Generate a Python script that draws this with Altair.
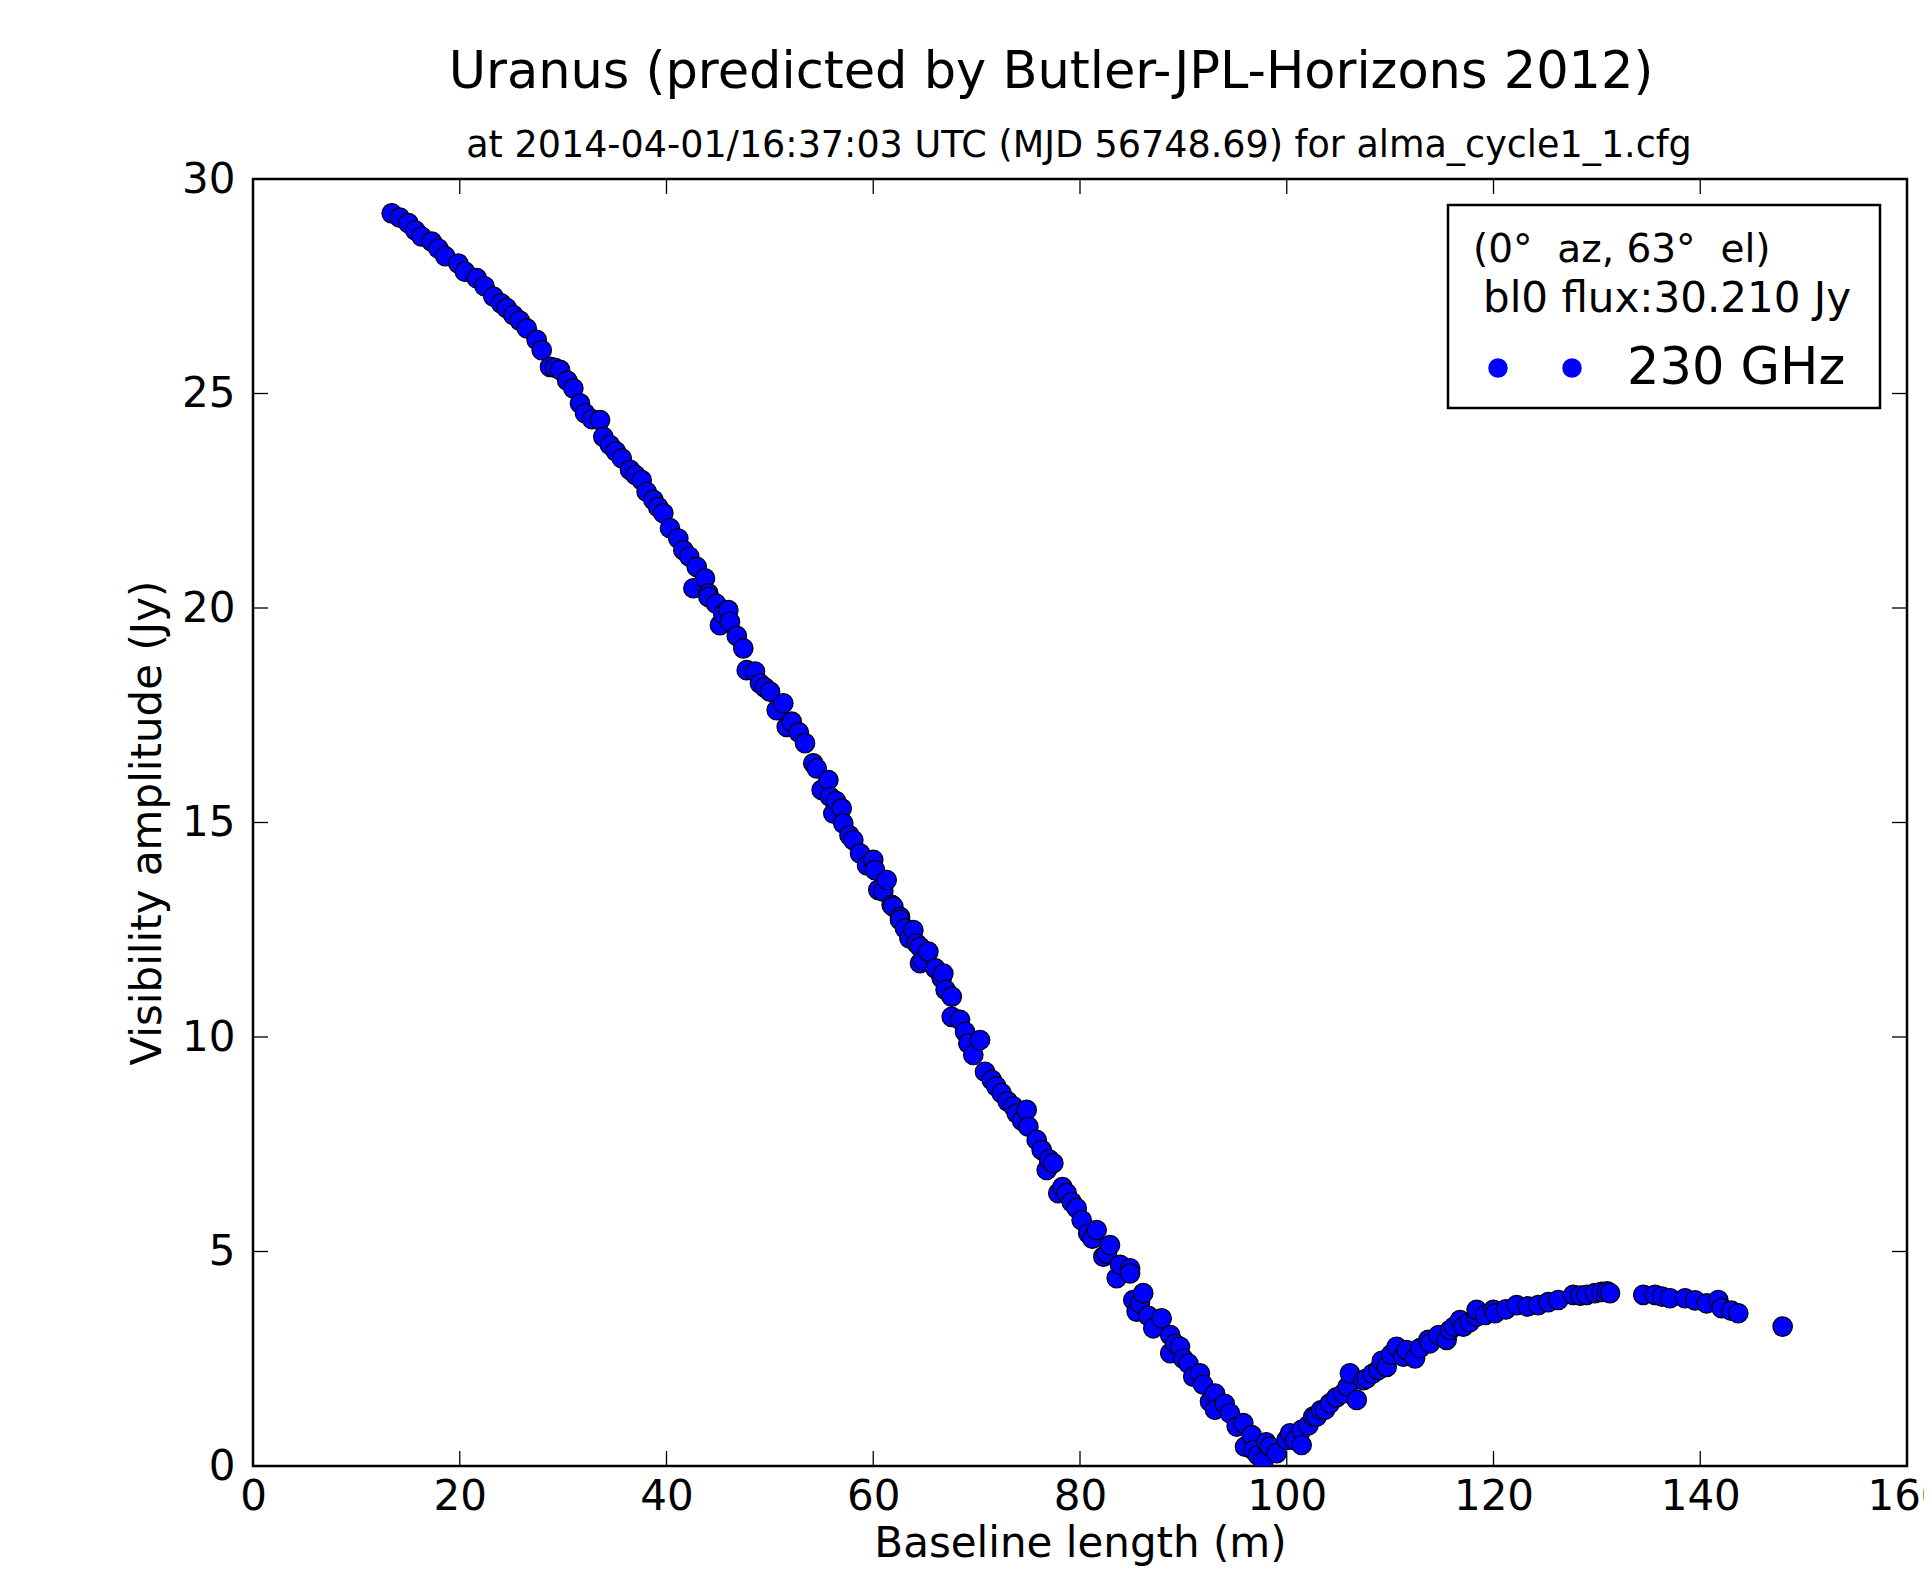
import altair as alt
import pandas as pd

# ---- data ----
baseline_m = [
    13.42, 14.2, 15.03, 15.7, 16.3, 17.29, 17.93, 18.6, 19.86, 20.5,
    21.64, 22.4, 23.25, 24.0, 24.54, 25.18, 25.8, 26.48, 27.44, 27.93,
    28.73, 29.2, 29.7, 30.4, 30.99, 31.63, 32.12, 32.8, 33.57, 33.89,
    34.53, 35.1, 35.67, 36.47, 37.0, 37.6, 38.08, 38.73, 39.2, 39.69,
    40.34, 41.14, 41.63, 42.2, 42.6, 42.92, 43.72, 44.05, 44.05, 44.8,
    45.17, 45.5, 45.98, 46.14, 46.8, 47.43, 47.76, 48.56, 49.04, 49.5,
    50.01, 50.66, 51.3, 51.63, 52.11, 52.8, 53.4, 54.2, 54.53, 55.01,
    55.66, 55.82, 56.14, 56.4, 56.95, 57.1, 57.7, 58.07, 58.72, 59.4,
    60.0, 60.17, 60.49, 60.97, 61.3, 61.78, 61.94, 62.59, 62.59, 63.07,
    63.5, 63.88, 64.2, 64.52, 64.52, 64.84, 65.33, 66.0, 66.62, 66.78,
    67.0, 67.59, 67.59, 68.39, 68.88, 69.2, 69.68, 70.33, 70.81, 71.46,
    71.9, 72.42, 73.0, 73.55, 73.88, 74.4, 74.84, 75.0, 75.81, 76.29,
    76.78, 77.0, 77.42, 77.9, 78.3, 78.71, 79.2, 79.68, 80.16, 80.8,
    81.2, 81.61, 82.26, 82.6, 82.9, 83.55, 83.87, 84.84, 84.84, 85.16,
    85.48, 85.8, 86.12, 86.6, 87.09, 87.9, 88.73, 88.73, 89.2, 89.67,
    90.0, 90.48, 90.96, 91.6, 91.9, 92.58, 93.06, 93.06, 94.0, 94.51,
    95.16, 95.8, 95.96, 96.61, 96.77, 97.2, 97.73, 98.0, 98.38, 99.02,
    99.99, 100.32, 100.8, 101.44, 101.44, 102.1, 102.57, 102.88, 103.3, 103.7,
    104.18, 104.8, 105.47, 105.9, 106.11, 106.77, 107.41, 107.73, 108.3, 108.86,
    109.2, 109.67, 110.1, 110.63, 111.28, 111.6, 112.41, 112.9, 113.7, 113.86,
    114.7, 115.47, 115.79, 116.2, 116.76, 117.08, 117.7, 118.37, 118.37, 119.2,
    119.99, 120.15, 121.2, 122.24, 123.3, 124.33, 125.3, 126.27, 127.72, 128.4,
    129.01, 129.8, 130.46, 131.0, 131.27, 134.49, 135.63, 136.3, 137.08, 138.53,
    139.5, 140.62, 141.75, 142.07, 143.0, 143.68, 147.97,
]
amplitude_jy = [
    29.2, 29.1, 28.97, 28.8, 28.66, 28.54, 28.38, 28.2, 28.03, 27.84,
    27.69, 27.5, 27.26, 27.1, 26.99, 26.83, 26.7, 26.52, 26.25, 26.01,
    25.62, 25.6, 25.55, 25.3, 25.12, 24.77, 24.54, 24.4, 24.38, 23.99,
    23.8, 23.65, 23.49, 23.22, 23.1, 22.98, 22.71, 22.52, 22.35, 22.21,
    21.86, 21.62, 21.35, 21.2, 20.46, 20.96, 20.69, 20.34, 20.26, 20.1,
    19.6, 19.85, 19.95, 19.68, 19.35, 19.06, 18.55, 18.52, 18.24, 18.15,
    18.05, 17.62, 17.78, 17.23, 17.35, 17.1, 16.85, 16.38, 16.26, 15.76,
    15.99, 15.6, 15.21, 15.5, 15.33, 14.98, 14.7, 14.59, 14.28, 14.0,
    14.13, 13.89, 13.43, 13.39, 13.66, 13.08, 13.04, 12.8, 12.73, 12.53,
    12.3, 12.49, 12.18, 12.1, 11.72, 11.79, 11.99, 11.6, 11.37, 11.48,
    11.1, 10.94, 10.47, 10.4, 10.12, 9.85, 9.58, 9.93, 9.19, 9.0,
    8.85, 8.69, 8.5, 8.38, 8.22, 8.05, 8.3, 7.91, 7.6, 7.37,
    6.9, 7.15, 7.06, 6.36, 6.5, 6.36, 6.15, 6.01, 5.73, 5.42,
    5.3, 5.5, 4.88, 4.95, 5.15, 4.38, 4.69, 4.61, 4.49, 3.87,
    3.6, 3.8, 4.03, 3.5, 3.21, 3.44, 3.05, 2.63, 2.85, 2.78,
    2.5, 2.39, 2.08, 2.16, 1.9, 1.5, 1.69, 1.31, 1.45, 1.23,
    0.92, 1.0, 0.45, 0.72, 0.37, 0.25, 0.1, 0.55, 0.45, 0.3,
    0.61, 0.76, 0.6, 0.84, 0.49, 0.95, 1.15, 1.15, 1.3, 1.31,
    1.46, 1.6, 1.69, 1.85, 2.16, 1.54, 2.0, 2.04, 2.15, 2.24,
    2.45, 2.31, 2.6, 2.78, 2.55, 2.7, 2.51, 2.75, 2.94, 2.86,
    3.05, 2.94, 3.17, 3.25, 3.4, 3.25, 3.35, 3.48, 3.64, 3.52,
    3.64, 3.56, 3.65, 3.75, 3.72, 3.75, 3.82, 3.87, 3.99, 3.97,
    3.99, 4.03, 4.06, 4.07, 4.03, 3.99, 3.99, 3.95, 3.91, 3.91,
    3.86, 3.79, 3.87, 3.68, 3.62, 3.56, 3.25,
]
x_ticks = [0, 20, 40, 60, 80, 100, 120, 140, 160]
y_ticks = [0, 5, 10, 15, 20, 25, 30]

title_main = ["Uranus (predicted by Butler-JPL-Horizons 2012)"]
title_sub = ["at 2014-04-01/16:37:03 UTC (MJD 56748.69) for alma_cycle1_1.cfg"]
legend_line1 = ["(0\u00b0\u00a0\u00a0az, 63\u00b0\u00a0\u00a0el)"]
legend_line2 = ["bl0 flux:30.210 Jy"]
legend_label = ["230 GHz"]

# ---- layout ----
W, H = 1654, 1287
FONT = "DejaVu Sans"
BLUE = "#0000ff"
TICK = 15

xs = alt.Scale(domain=[0, 160], nice=False, zero=False)
ys = alt.Scale(domain=[0, 30], nice=False, zero=False)

x_axis = alt.Axis(
    title="Baseline length (m)", values=x_ticks, ticks=False, domain=False, grid=False,
    labelFlush=False, labelPadding=10, titlePadding=6, format="d")
y_axis = alt.Axis(
    title="Visibility amplitude (Jy)", values=y_ticks, ticks=False, domain=False, grid=False,
    labelFlush=False, labelPadding=18, titlePadding=12, format="d")

df = pd.DataFrame({"b": baseline_m, "v": amplitude_jy})

points = alt.Chart(df).mark_circle(
    size=380, color=BLUE, opacity=1, stroke="black", strokeWidth=1.2, clip=True
).encode(
    x=alt.X("b:Q", scale=xs, axis=x_axis),
    y=alt.Y("v:Q", scale=ys, axis=y_axis),
)

xt = pd.DataFrame({"b": x_ticks})
yt = pd.DataFrame({"v": y_ticks})
rule_kw = dict(color="black", strokeWidth=1.3)
tick_bottom = alt.Chart(xt).mark_rule(**rule_kw).encode(
    x=alt.X("b:Q", scale=xs, axis=x_axis), y=alt.value(H), y2=alt.value(H - TICK))
tick_top = alt.Chart(xt).mark_rule(**rule_kw).encode(
    x=alt.X("b:Q", scale=xs, axis=x_axis), y=alt.value(0), y2=alt.value(TICK))
tick_left = alt.Chart(yt).mark_rule(**rule_kw).encode(
    y=alt.Y("v:Q", scale=ys, axis=y_axis), x=alt.value(0), x2=alt.value(TICK))
tick_right = alt.Chart(yt).mark_rule(**rule_kw).encode(
    y=alt.Y("v:Q", scale=ys, axis=y_axis), x=alt.value(W), x2=alt.value(W - TICK))

t1 = alt.Chart(pd.DataFrame({"t": title_main})).mark_text(
    font=FONT, fontSize=51, color="black", align="center", baseline="alphabetic"
).encode(text="t:N", x=alt.value(798), y=alt.value(-91))
t2 = alt.Chart(pd.DataFrame({"t": title_sub})).mark_text(
    font=FONT, fontSize=36.5, color="black", align="center", baseline="alphabetic"
).encode(text="t:N", x=alt.value(826), y=alt.value(-22))

box = alt.Chart(pd.DataFrame({"k": [0]})).mark_rect(
    fill="white", stroke="black", strokeWidth=2.5
).encode(x=alt.value(1195), x2=alt.value(1627), y=alt.value(26), y2=alt.value(229))
l1 = alt.Chart(pd.DataFrame({"t": legend_line1})).mark_text(
    font=FONT, fontSize=39, color="black", align="left", baseline="alphabetic"
).encode(text="t:N", x=alt.value(1220), y=alt.value(83))
l2 = alt.Chart(pd.DataFrame({"t": legend_line2})).mark_text(
    font=FONT, fontSize=42, color="black", align="left", baseline="alphabetic"
).encode(text="t:N", x=alt.value(1230), y=alt.value(133))
l3 = alt.Chart(pd.DataFrame({"t": legend_label})).mark_text(
    font=FONT, fontSize=51, color="black", align="left", baseline="alphabetic"
).encode(text="t:N", x=alt.value(1374), y=alt.value(205))
dot1 = alt.Chart(pd.DataFrame({"k": [0]})).mark_circle(size=380, color=BLUE, opacity=1).encode(
    x=alt.value(1245), y=alt.value(189))
dot2 = alt.Chart(pd.DataFrame({"k": [0]})).mark_circle(size=380, color=BLUE, opacity=1).encode(
    x=alt.value(1319), y=alt.value(189))

chart = alt.layer(
    points, tick_bottom, tick_top, tick_left, tick_right, t1, t2, box, l1, l2, l3, dot1, dot2
).properties(
    width=W, height=H,
    autosize=alt.AutoSizeParams(type="none"),
    padding={"left": 245, "top": 171, "right": 17, "bottom": 100},
    background="white",
).configure_view(
    stroke="black", strokeWidth=2.5
).configure_axis(
    labelFont=FONT, labelFontSize=42, labelColor="black",
    titleFont=FONT, titleFontSize=42, titleColor="black", titleFontWeight="normal",
)

chart.save("out.html", embed_options={"renderer": "svg", "actions": False})
